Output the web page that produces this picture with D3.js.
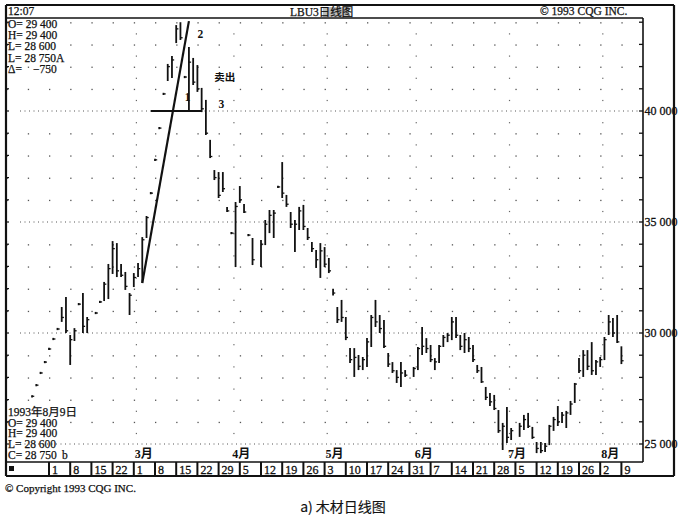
<!DOCTYPE html>
<html><head><meta charset="utf-8">
<script src="https://cdn.jsdelivr.net/npm/d3@7"></script>
<style>body{margin:0;background:#fff}svg{display:block}</style>
</head><body><svg id="c" width="682" height="516"></svg>
<script>
// ---------- DATA ----------
const year = 1993;
const dates = ["01-26","01-27","01-28","01-29","02-01","02-02","02-03","02-04","02-05",
"02-08","02-09","02-10","02-11","02-12","02-16","02-17","02-18","02-19",
"02-22","02-23","02-24","02-25","02-26","03-01","03-02","03-03","03-04","03-05",
"03-08","03-09","03-10","03-11","03-12","03-15","03-16","03-17","03-18","03-19",
"03-22","03-23","03-24","03-25","03-26","03-29","03-30","03-31","04-01","04-02",
"04-05","04-06","04-07","04-08","04-12","04-13","04-14","04-15","04-16",
"04-19","04-20","04-21","04-22","04-23","04-26","04-27","04-28","04-29","04-30",
"05-03","05-04","05-05","05-06","05-07","05-10","05-11","05-12","05-13","05-14",
"05-17","05-18","05-19","05-20","05-21","05-24","05-25","05-26","05-27","05-28",
"06-01","06-02","06-03","06-04","06-07","06-08","06-09","06-10","06-11",
"06-14","06-15","06-16","06-17","06-18","06-21","06-22","06-23","06-24","06-25",
"06-28","06-29","06-30","07-01","07-02","07-06","07-07","07-08","07-09",
"07-12","07-13","07-14","07-15","07-16","07-19","07-20","07-21","07-22","07-23",
"07-26","07-27","07-28","07-29","07-30","08-02","08-03","08-04","08-05","08-06","08-09"];
const highs = [27200,27700,28250,28740,29330,29780,30230,31170,31620,
29910,30220,31350,31800,30720,30950,31450,32300,33110,
34140,34050,33110,32750,31800,32700,33150,34320,35270,36350,
37850,39280,40820,42120,42480,43870,44000,41580,42880,42390,
42070,41040,40500,38700,37340,37250,37250,35680,34550,35900,
36620,35810,34460,34280,34190,35090,35540,35540,36630,
37700,36220,35450,35090,35680,35770,34730,34100,33740,34050,
33870,33380,31990,31170,31490,30720,29320,29320,29010,28920,
29770,30810,31490,30810,30590,29100,28690,28330,28690,28330,
28470,29370,30270,29770,29460,28870,29460,29910,30000,
30720,30720,29910,30000,29820,29460,28560,28470,27570,27300,
27210,26530,25950,26670,25720,25950,26310,26400,25770,
25090,25090,25050,25860,26220,26710,26440,26490,26940,27750,
28870,29230,29230,29590,28780,28920,29820,30810,30680,30810,29400];
const lows = [27100,27600,28150,28640,29230,29680,30130,30500,30000,
28560,29640,31250,30000,30000,30850,31350,31440,31530,
32660,32520,32520,31940,30810,32070,32520,32250,34280,36250,
37750,39180,40720,41350,41490,43060,43200,41480,40050,41170,
40860,39950,38920,37880,36890,36080,36350,35450,34450,32970,
35860,35400,34360,33060,32970,33960,34500,34280,36530,
36080,35680,34730,33650,34640,34640,34190,33650,32930,32480,
32970,32700,31690,30450,30500,29680,28650,28020,28330,28330,
28470,29370,30270,30000,29320,28470,28200,27750,27570,28020,
28020,28330,29010,29100,28690,28330,28650,29370,29590,
29680,29770,29230,29100,29140,28690,28200,27750,26980,26710,
26530,25500,24730,25050,25180,25320,25630,25720,25230,
24590,24590,24640,24950,25590,25810,25950,25720,26310,26850,
28200,28020,28330,28110,28110,28470,28780,29910,29820,29550,28600];
const closes = [27150,27650,28200,28690,29280,29730,30180,30700,30100,
29700,30100,31300,30300,30600,30900,31400,32200,32900,
33800,32800,32600,32100,31700,32500,32900,34200,35200,36300,
37800,39230,40770,42000,42300,43700,43300,41530,42200,41300,
41000,40100,39000,37950,37000,36200,36500,35500,34500,35700,
36000,35450,34410,33300,34000,34900,35300,35400,36580,
36300,35800,34900,34900,35500,34800,34300,33800,33300,33700,
33100,32800,31800,30600,30700,29800,28800,28900,28500,28800,
29600,30700,30500,30200,29400,28600,28300,28000,28200,28100,
28400,29300,29400,29300,28800,28700,29400,29800,29900,
30500,29900,29400,29700,29300,28800,28300,27800,27100,26900,
26600,25600,25800,25300,25600,25800,26100,25800,25300,
24800,24700,24900,25800,26100,26000,26300,26400,26800,27700,
28300,29000,28500,28300,28700,28800,29700,30500,30000,29600,28750];
const priceLabels = [25000, 30000, 35000, 40000];
const weekLabels = ["1","8","15","22","1","8","15","22","29","5","12","19","26","3",
"10","17","24","31","7","14","21","28","5","12","19","26","2","9"];
const firstWeek = "02-01";
const monthLabels = ["3月","4月","5月","6月","7月","8月"];
const monthStarts = ["03-01","04-01","05-03","06-01","07-01","08-02"];
const infoTop = ["O= 29 400","H= 29 400","L= 28 600","L= 28 750A"];
const infoBottom = ["1993年8月9日","O= 29 400","H= 29 400","L= 28 600"];
const trendLine = [{d:"03-03", v:32250},{d:"03-18", v:44050}];
const levelLine = [{d:"03-05", v:40000},{d:"03-23", v:40000}];
const notes = [{t:"2", d:"03-22", v:43300},{t:"1", d:"03-17", v:40450},
               {t:"3", d:"03-29", v:40130},{t:"卖出", d:"03-26", v:41350}];

// ---------- SCALES ----------
const base = new Date(year, 1, 1);
function slot(s){
  const [m, d] = s.split("-").map(Number);
  const days = Math.round((new Date(year, m-1, d) - base) / 864e5);
  const w = Math.floor(days / 7);
  return w * 5 + (days - w * 7);
}
const L = 6, R = 643, T = 18, B = 462, RO = 674, TOP = 5, BOT = 476;
const x = d3.scaleLinear().domain([-10, 140]).range([6.6, 642.6]);
const y = d3.scaleLinear().domain([25000, 40000]).range([444, 111]);

const svg = d3.select("#c");
const serif = "'Liberation Serif','Times New Roman',serif";
const cjk = "'Liberation Serif','Noto Sans CJK SC',serif";
const ink = "#111";

// ---------- GRID ----------
const g = svg.append("g");
const levels = d3.range(24000, 44001, 1000).filter(v => y(v) > T + 2 && y(v) < B - 2);
levels.filter(v => v % 5000 === 0).forEach(v => {
  g.append("line").attr("x1", 20).attr("x2", R - 3).attr("y1", y(v)).attr("y2", y(v))
   .attr("stroke", "#555").attr("stroke-width", 1).attr("stroke-dasharray", "1,3.5");
});
const weekSlots = d3.range(-2, 28).map(i => slot(firstWeek) + 5 * i);
levels.filter(v => v % 5000 !== 0).forEach(v => {
  weekSlots.forEach(s => {
    g.append("rect").attr("x", x(s)).attr("y", y(v)).attr("width", 1.3).attr("height", 1.3).attr("fill", "#555");
  });
});
monthStarts.forEach(ms => {
  d3.range(24500, 44001, 500).filter(v => v % 1000 !== 0 && y(v) > T + 3 && y(v) < B - 3).forEach(v => {
    g.append("rect").attr("x", x(slot(ms)) + 2).attr("y", y(v)).attr("width", 1.2).attr("height", 1.2).attr("fill", "#666");
  });
});

// ---------- FRAME ----------
const f = svg.append("g").attr("stroke", ink).attr("fill", "none");
f.append("line").attr("x1", L).attr("x2", L).attr("y1", TOP).attr("y2", BOT).attr("stroke-width", 2.2);
f.append("line").attr("x1", L).attr("x2", RO).attr("y1", TOP).attr("y2", TOP).attr("stroke-width", 2.2);
f.append("line").attr("x1", RO).attr("x2", RO).attr("y1", TOP).attr("y2", BOT).attr("stroke-width", 2.2);
f.append("line").attr("x1", L).attr("x2", RO).attr("y1", BOT).attr("y2", BOT).attr("stroke-width", 2);
f.append("line").attr("x1", L).attr("x2", R).attr("y1", T).attr("y2", T).attr("stroke-width", 1.5);
f.append("line").attr("x1", L).attr("x2", R).attr("y1", B).attr("y2", B).attr("stroke-width", 1.6);
f.append("line").attr("x1", R).attr("x2", R).attr("y1", T).attr("y2", B).attr("stroke-width", 1.6);

// axes ticks (every 1000)
levels.forEach(v => {
  f.append("line").attr("x1", R - 4).attr("x2", R).attr("y1", y(v)).attr("y2", y(v)).attr("stroke-width", 1.3);
  f.append("line").attr("x1", L).attr("x2", L + 3).attr("y1", y(v)).attr("y2", y(v)).attr("stroke-width", 1.2);
});
const yAxis = d3.axisRight(y).tickValues(priceLabels).tickSize(0)
  .tickFormat(v => d3.format(",")(v).replace(",", " "));
const ya = svg.append("g").attr("transform", `translate(${R + 1},0)`).call(yAxis);
ya.select(".domain").remove();
ya.selectAll("text").attr("font-family", serif).attr("font-size", 12).attr("fill", ink)
  .attr("stroke", ink).attr("stroke-width", 0.3).attr("x", 0.5);

// ---------- BARS ----------
const bars = svg.append("g").attr("stroke", ink);
dates.forEach((d, i) => {
  const cx = x(slot(d));
  let y1 = y(highs[i]), y2 = y(lows[i]);
  if (y2 - y1 < 2) { const m = (y1 + y2) / 2; y1 = m - 1; y2 = m + 1; }
  bars.append("line").attr("x1", cx).attr("x2", cx).attr("y1", y1).attr("y2", y2).attr("stroke-width", 1.8);
  bars.append("line").attr("x1", cx).attr("x2", cx + 2.2).attr("y1", y(closes[i])).attr("y2", y(closes[i])).attr("stroke-width", 1.3);
});

// ---------- ANNOTATIONS ----------
const ln = d3.line().x(p => x(slot(p.d))).y(p => y(p.v));
svg.append("path").attr("d", ln(trendLine)).attr("stroke", ink).attr("stroke-width", 2.2).attr("fill", "none");
svg.append("path").attr("d", ln(levelLine)).attr("stroke", ink).attr("stroke-width", 2.2).attr("fill", "none");
notes.forEach(n => {
  svg.append("text").attr("x", x(slot(n.d))).attr("y", y(n.v)).text(n.t)
    .attr("font-family", n.t.length > 1 ? "'Noto Sans CJK SC',sans-serif" : serif)
    .attr("font-size", n.t.length > 1 ? 10.5 : 11.5).attr("font-weight", "bold").attr("fill", ink);
});

// ---------- DATE ROW ----------
const row = svg.append("g");
weekLabels.forEach((t, i) => {
  const sx = x(slot(firstWeek) + 5 * i);
  row.append("line").attr("x1", sx).attr("x2", sx).attr("y1", B).attr("y2", BOT).attr("stroke", ink).attr("stroke-width", 2);
  row.append("text").attr("x", sx + 3).attr("y", BOT - 2.5).text(t)
    .attr("font-family", serif).attr("font-size", 12).attr("fill", ink)
    .attr("stroke", ink).attr("stroke-width", 0.3);
});
row.append("rect").attr("x", 9).attr("y", 466).attr("width", 5).attr("height", 5).attr("fill", ink);
monthLabels.forEach((t, i) => {
  row.append("text").attr("x", x(slot(monthStarts[i])) + 10).attr("y", B - 4).text(t)
    .attr("text-anchor", "middle").attr("font-family", cjk).attr("font-size", 12).attr("font-weight", "bold").attr("fill", ink);
});

// ---------- TEXTS ----------
const txt = (s, tx, ty, size, fam, extra) => {
  const e = svg.append("text").attr("x", tx).attr("y", ty).text(s)
    .attr("font-family", fam || serif).attr("font-size", size).attr("fill", ink)
    .attr("stroke", ink).attr("stroke-width", 0.25);
  if (extra) extra(e);
  return e;
};
txt("12:07", 8, 15, 11.5);
svg.append("rect").attr("x", 323).attr("y", 7).attr("width", 26).attr("height", 10).attr("fill", "#bbb");
txt("LBU3日线图", 290, 15.5, 11.5, cjk);
txt("© 1993 CQG INC.", 540, 15, 11.5);
infoTop.forEach((s, i) => txt(s, 8, 28 + i * 11.2, 11.5));
txt("Δ=", 8, 28 + 4 * 11.2, 11.5);
txt("−750", 33, 28 + 4 * 11.2, 11.5);
infoBottom.forEach((s, i) => txt(s, 8, 416 + i * 10.7, 11.5, cjk));
txt("C= 28 750", 8, 416 + 4 * 10.7, 11.5);
txt("b", 62, 416 + 4 * 10.7, 11.5);
txt("© Copyright 1993 CQG INC.", 5, 492, 11);
txt("a) 木材日线图", 343, 512, 14, "'Noto Sans CJK SC',sans-serif", e => e.attr("text-anchor", "middle").attr("stroke-width", 0.15));
</script></body></html>
